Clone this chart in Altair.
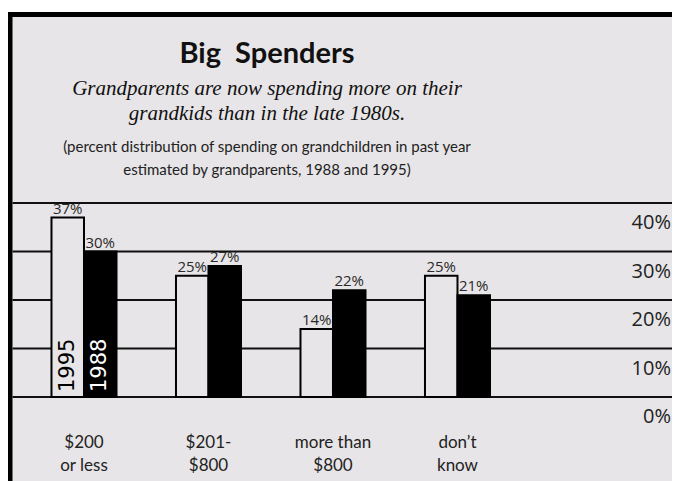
import altair as alt
import pandas as pd

# ---------------- data ----------------
categories = ["$200\nor less", "$201-\n$800", "more than\n$800", "don\u2019t\nknow"]
years = ["1995", "1988"]
values_1995 = [37, 25, 14, 25]
values_1988 = [30, 27, 22, 21]
tick_values = [0, 10, 20, 30, 40]
tick_labels = ["0%", "10%", "20%", "30%", "40%"]

title_text = "Big\u00a0 Spenders"
subtitle_lines = ["Grandparents are now spending more on their",
                  "grandkids than in the late 1980s."]
note_lines = ["(percent distribution of spending on grandchildren in past year",
              "estimated by grandparents, 1988 and 1995)"]

rows = []
for c, v95, v88 in zip(categories, values_1995, values_1988):
    rows.append({"cat": c, "year": "1995", "value": v95, "label": f"{v95}%"})
    rows.append({"cat": c, "year": "1988", "value": v88, "label": f"{v88}%"})
bars_df = pd.DataFrame(rows)
year_df = bars_df[bars_df["cat"] == categories[0]].copy()
ticks_df = pd.DataFrame({"tick": tick_values, "tlabel": tick_labels})
cats_df = pd.DataFrame({"cat": categories})
one = pd.DataFrame({"k": [0]})

# ---------------- layout ----------------
W, H = 664, 473
BG = "#e7e5e7"
INK = "#111111"
HUMAN = "Lato, Liberation Sans, sans-serif"
SANS = "Open Sans, Noto Sans, sans-serif"

yscale = alt.Scale(domain=[-17.32, 80.21], nice=False, zero=False)
xscale = alt.Scale(domain=categories, paddingInner=0, paddingOuter=0.6667, align=0.0828)
xoscale = alt.Scale(domain=years, paddingInner=0, paddingOuter=0.915)

X = alt.X("cat:N", scale=xscale, axis=None)
XO = alt.XOffset("year:N", scale=xoscale)

frame = alt.Chart(one).mark_rect(fill="#000000").encode(
    x=alt.value(0), x2=alt.value(W), y=alt.value(4), y2=alt.value(H))
panel = alt.Chart(one).mark_rect(fill=BG).encode(
    x=alt.value(4.5), x2=alt.value(W), y=alt.value(9), y2=alt.value(H))

grid = alt.Chart(ticks_df).mark_rule(color=INK, strokeWidth=2).encode(
    y=alt.Y("tick:Q", scale=yscale, axis=None),
    x=alt.value(4.5), x2=alt.value(W))

right_labels = alt.Chart(ticks_df).mark_text(
    align="right", baseline="middle", dy=20, fontSize=20, font=SANS, color="#222222"
).encode(y=alt.Y("tick:Q", scale=yscale, axis=None), x=alt.value(W - 1), text="tlabel:N")

bars = alt.Chart(bars_df).mark_bar(stroke="#000000", strokeWidth=2).encode(
    x=X, xOffset=XO,
    y=alt.Y("value:Q", scale=yscale, axis=None), y2=alt.datum(0),
    fill=alt.condition(alt.datum.year == "1995", alt.value(BG), alt.value("#000000")))

value_labels = alt.Chart(bars_df).mark_text(
    baseline="alphabetic", dy=-4, fontSize=15, font=SANS, color="#2a2a2a"
).encode(x=X, xOffset=XO, y=alt.Y("value:Q", scale=yscale, axis=None), text="label:N")

year_labels = alt.Chart(year_df).mark_text(
    angle=270, align="left", baseline="middle", dx=5, fontSize=21, font="DejaVu Sans"
).encode(
    x=X, xOffset=XO, y=alt.Y("zero:Q", scale=yscale, axis=None), text="year:N",
    color=alt.condition(alt.datum.year == "1995", alt.value("#000000"), alt.value("#ffffff"))
).transform_calculate(zero="0")

cat_labels = alt.Chart(cats_df).mark_text(
    lineBreak="\n", lineHeight=23, baseline="alphabetic", align="center",
    fontSize=17, font=HUMAN, color="#222222"
).encode(x=X, y=alt.value(440), text="cat:N")

title = alt.Chart(one).mark_text(
    fontSize=29, fontWeight="bold", font=HUMAN, color=INK, baseline="alphabetic"
).encode(x=alt.value(259), y=alt.value(55), text=alt.value(title_text))

subtitle = alt.Chart(one).mark_text(
    fontSize=21, fontStyle="italic", font="Liberation Serif, serif", color=INK,
    baseline="alphabetic", lineBreak="\n", lineHeight=25
).encode(x=alt.value(259), y=alt.value(87), text=alt.value("\n".join(subtitle_lines)))

note = alt.Chart(one).mark_text(
    fontSize=15, font=HUMAN, color="#222222",
    baseline="alphabetic", lineBreak="\n", lineHeight=23
).encode(x=alt.value(259), y=alt.value(144), text=alt.value("\n".join(note_lines)))

chart = alt.layer(
    frame, panel, grid, bars, value_labels, year_labels, right_labels,
    cat_labels, title, subtitle, note
).properties(
    width=W, height=H, padding=0, autosize=alt.AutoSizeParams(type="none"),
    background="white"
).configure_view(stroke=None)

chart.save("out.html", embed_options={"renderer": "svg", "actions": False})
